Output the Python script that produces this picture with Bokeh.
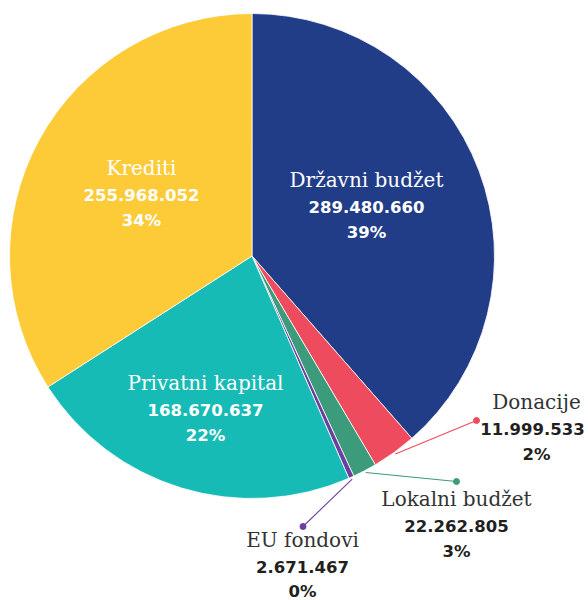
import math
from bokeh.plotting import figure
from bokeh.models import Range1d
from bokeh.core.properties import value
from bokeh.embed import file_html
from bokeh.resources import INLINE

# ---- data ----
# slices as drawn, clockwise from 12 o'clock
slice_names = ["Državni budžet", "Lokalni budžet", "Donacije", "EU fondovi", "Privatni kapital", "Krediti"]
slice_values = [289480660, 22262805, 11999533, 2671467, 168670637, 255968052]
slice_colors = ["#213d87", "#ef4b5f", "#3b9b7a", "#6b3fa0", "#17bbb5", "#fdcb38"]

# labels
label_names = ["Državni budžet", "Krediti", "Privatni kapital", "Donacije", "Lokalni budžet", "EU fondovi"]
label_amounts = [289480660, 255968052, 168670637, 11999533, 22262805, 2671467]

# ---- layout (page pixels; y measured from top) ----
CX, CY, R = 251.5, 255.5, 242.5
label_pos = [(366, 179.5), (141, 167), (205, 382), (536, 401.5), (456, 498), (302, 539.5)]
label_inside = [True, True, True, False, False, False]
# per-label nudge for number line (keeps text inside the page)
num_dx = [0, 0, 0, -4, 0, 0]
# per-label line spacing
line_gap = [(27.3, 52.8)] * 5 + [(27.3, 51.5)]
# callouts: (label index, slice index it is drawn to, dot x, dot y)
callouts = [(3, 1, 476, 420), (4, 2, 456, 481), (5, 3, 302.5, 526)]

W, H = 588, 600


def Y(y):
    return H - y


p = figure(width=W, height=H, x_range=Range1d(0, W), y_range=Range1d(0, H),
           toolbar_location=None, output_backend="svg", min_border=0)
p.axis.visible = False
p.grid.visible = False
p.outline_line_color = None
p.background_fill_color = "white"
p.border_fill_color = "white"

total = sum(slice_values)
cum = 0.0
mids = []
starts, ends = [], []
for v in slice_values:
    a_end = math.radians(90 - cum / total * 360)
    a_start = math.radians(90 - (cum + v) / total * 360)
    starts.append(a_start)
    ends.append(a_end)
    mids.append((a_start + a_end) / 2)
    cum += v

p.wedge(x=[CX] * len(slice_values), y=[Y(CY)] * len(slice_values), radius=R,
        start_angle=starts, end_angle=ends, direction="anticlock",
        fill_color=slice_colors, line_color="white", line_width=0.8)

# callouts
for li, si, dx, dy in callouts:
    a = mids[si]
    sx = CX + (R + 2) * math.cos(a)
    sy = Y(CY) + (R + 2) * math.sin(a)
    col = slice_colors[si]
    p.segment(x0=[sx], y0=[sy], x1=[dx], y1=[Y(dy)], line_color=col, line_width=1.1)
    p.scatter(x=[dx], y=[Y(dy)], size=6, fill_color=col, line_color=col)


def fmt(v):
    return f"{v:,}".replace(",", ".")


for i, name in enumerate(label_names):
    x, y = label_pos[i]
    g1, g2 = line_gap[i]
    amt = label_amounts[i]
    pct = f"{round(amt / total * 100)}%"
    inside = label_inside[i]
    c1 = "white" if inside else "#333333"
    c2 = "white" if inside else "#231f20"
    p.text(x=[x], y=[Y(y)], text=[name], text_font=value("DejaVu Serif"),
           text_font_size="20px", text_color=c1, text_align="center",
           text_baseline="alphabetic")
    p.text(x=[x + num_dx[i]], y=[Y(y + g1)], text=[fmt(amt)], text_font=value("DejaVu Sans"),
           text_font_size="16.5px", text_font_style="bold", text_color=c2,
           text_align="center", text_baseline="alphabetic")
    p.text(x=[x], y=[Y(y + g2)], text=[pct], text_font=value("DejaVu Sans"),
           text_font_size="16.5px", text_font_style="bold", text_color=c2,
           text_align="center", text_baseline="alphabetic")

open("out.html", "w").write(file_html(p, INLINE))
